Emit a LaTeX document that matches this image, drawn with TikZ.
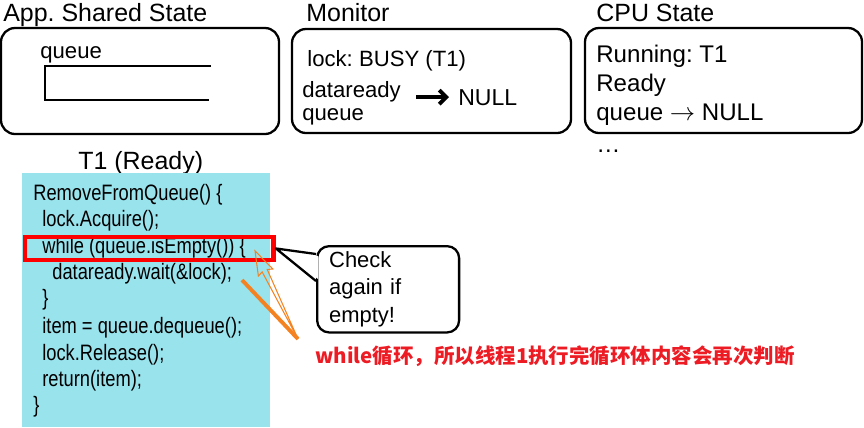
\documentclass[tikz,border=0pt]{standalone}
\usepackage{fontspec}
\setmainfont{Liberation Sans}
\newfontfamily\codefont{Liberation Sans}[FakeStretch=0.82]
\newfontfamily\cjk{Noto Sans CJK SC}
\usetikzlibrary{arrows.meta,calc}
\definecolor{codebg}{RGB}{153,227,237}
\definecolor{hlred}{RGB}{255,0,0}
\definecolor{notered}{RGB}{237,28,36}
\definecolor{hintorange}{RGB}{245,130,32}
\frenchspacing

\begin{document}
\begin{tikzpicture}[x=0.02cm, y=-0.02cm,
  statebox/.style={draw, line width=1.3pt, rounded corners=0.28cm},
  title/.style={anchor=base west, inner sep=0pt, font=\fontsize{14.2}{17}\selectfont},
  txt/.style={anchor=base west, inner sep=0pt, font=\fontsize{12.6}{15}\selectfont},
  cputxt/.style={anchor=base west, inner sep=0pt, font=\fontsize{13.7}{16}\selectfont},
  code/.style={anchor=base west, inner sep=0pt, font=\codefont\fontsize{12.7}{15}\selectfont},
  callbox/.style={draw, line width=1.3pt, rounded corners=0.24cm, fill=white, align=left}
]
\useasboundingbox (0,0) rectangle (864,427);

% shared state
\node[title] (apptitle) at (3,21) {App. Shared State};
\draw[statebox] (1,28) rectangle (279,134);
\node[txt] (appq) at (40,58) {queue};
\draw[line width=1.4pt] (211,66) -- (45,66) -- (45,100) -- (209,100);

% monitor
\node[title] (montitle) at (306,21) {Monitor};
\draw[statebox] (292,29) rectangle (571,133);
\node[txt] (mlock) at (307,66) {lock: BUSY (T1)};
\node[txt] (mdata) at (302,97) {dataready};
\node[txt] (mqueue) at (302,120) {queue};
\node[txt, font=\fontsize{13.1}{15}\selectfont] (mnull) at (458,105) {NULL};
\draw[line width=2.2pt, -{Straight Barb[length=4pt,width=8pt]}, shorten <=0.3cm, shorten >=0.18cm]
  (mdata.east |- mnull.center) -- (mnull.center -| mnull.west);

% cpu state
\node[title] (cputitle) at (596,21) {CPU State};
\draw[statebox] (585,28) rectangle (862,133);
\node[cputxt] (crun) at (596,62) {Running: T1};
\node[cputxt] (cready) at (596,91) {Ready};
\node[cputxt] (cqueue) at (596,120) {queue $\rightarrow$ NULL};
\node[cputxt] (cdots) at (596,152) {\dots};

% thread 1
\node[title] (t1title) at (78,169) {T1 (Ready)};
\fill[codebg] (22,173) rectangle (270,427);
\node[code] (l1) at (33,200) {RemoveFromQueue() \{};
\node[code] (l2) at (42,226) {lock.Acquire();};
\node[code] (l3) at (42,253) {while (queue.isEmpty()) \{};
\node[code] (l4) at (52,279) {dataready.wait(\&lock);};
\node[code] (l5) at (42,305) {\}};
\node[code] (l6) at (42,333) {item = queue.dequeue();};
\node[code] (l7) at (42,360) {lock.Release();};
\node[code] (l8) at (42,386) {return(item);};
\node[code] (l9) at (33,412) {\}};
\node[draw=hlred, line width=2.8pt, minimum width=4.97cm, minimum height=0.46cm, inner sep=0pt,
  anchor=north west] (hl) at (22.5,234.5) {};

% callout
\node[callbox, anchor=north west, text width=2.36cm, inner xsep=0.24cm, minimum height=1.68cm,
  font=\fontsize{12.5}{15.4}\selectfont] (chk) at (316,245) {Check\\again if\\empty!};
\coordinate (p1) at ($(chk.north west)+(0,9)$);
\coordinate (p2) at ($(chk.north west)+(0,36)$);
\fill[white] ($(p1)+(2,2)$) -- (hl.east) -- ($(p2)+(2,-2)$) -- cycle;
\draw[line width=1.3pt, line join=round] (p1) -- (hl.east) -- (p2);

% orange hint
\coordinate (waitend) at (242,280);
\coordinate (hint) at (298,339);
\draw[hintorange, line width=2.2pt] (waitend) -- (hint);
\begin{scope}[shift={(hint)}, rotate=116]
\draw[hintorange, line width=0.6pt, line join=miter] (0,0) -- (76,-2.8) -- (74,-8) -- (98,0) -- (74,8) -- (76,2.8) -- cycle;
\end{scope}
\node[anchor=base west, inner sep=0pt, text=notered, font=\cjk\bfseries\fontsize{11.65}{14}\selectfont]
  (note) at (315,363) {while循环，所以线程1执行完循环体内容会再次判断};
\end{tikzpicture}
\end{document}
